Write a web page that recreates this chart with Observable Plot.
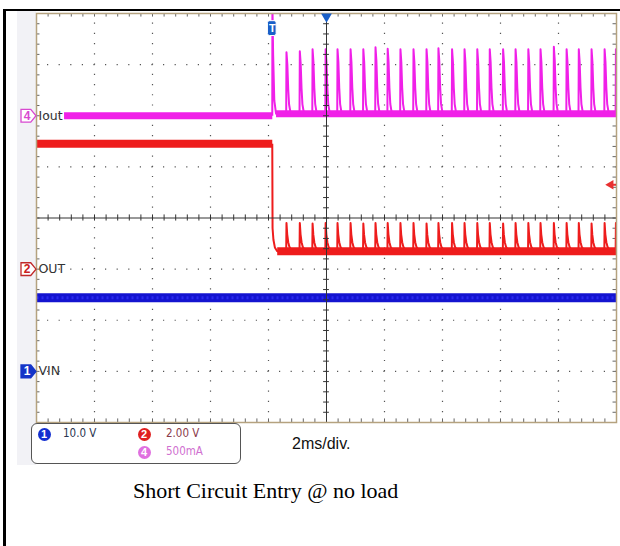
<!DOCTYPE html>
<html><head><meta charset="utf-8">
<script src="https://cdn.jsdelivr.net/npm/d3@7"></script>
<script src="https://cdn.jsdelivr.net/npm/@observablehq/plot@0.6"></script>
<style>
body{margin:0;background:#fff;}
#wrap{position:relative;width:620px;height:546px;overflow:hidden;background:#fff;}
#strip{position:absolute;left:17px;top:11px;width:19px;height:454px;background:#f2f2f6;}
#chart{position:absolute;left:0;top:0;}
.bl{position:absolute;background:#000;}
#legend{position:absolute;left:31px;top:423px;width:208px;height:39px;border:1px solid #555;border-radius:6px;background:#fff;font-family:"DejaVu Sans",sans-serif;font-stretch:condensed;font-size:11.5px;}
.ci{position:absolute;width:13px;height:13px;border-radius:50%;color:#fff;font-size:11px;font-weight:bold;text-align:center;line-height:13px;font-family:"Liberation Sans",sans-serif;font-stretch:normal;}
.lt{position:absolute;line-height:13px;}
#tdiv{position:absolute;left:292px;top:435px;font-family:"Liberation Sans",Arial,sans-serif;font-size:16px;color:#111;}
#caption{position:absolute;left:133px;top:480px;font-family:"Liberation Serif","Times New Roman",serif;font-size:22px;line-height:22px;color:#000;white-space:nowrap;}
#chart svg text.lbl{font-stretch:condensed;}
</style></head><body>
<div id="wrap">
  <div id="strip"></div>
  <div id="chart"></div>
  <div class="bl" style="left:3px;top:9px;width:3px;height:537px"></div>
  <div class="bl" style="left:3px;top:9px;width:617px;height:2px"></div>
  <div id="legend"></div>
  <div id="tdiv"></div>
  <div id="caption"></div>
</div>
<script>
// ---------------- data ----------------
const timeDomain = [0, 20];          // ms, 2 ms/div, 10 div
const divDomain = [-4, 4];           // vertical divisions
const timebaseLabel = "2ms/div.";
const captionText = "Short Circuit Entry @ no load";

// channel settings: scale per division, ground offset (div)
const chNames   = ["VIN", "OUT", "Iout"];
const chNumbers = ["1", "2", "4"];
const chScales  = [10, 2, 500];      // V/div, V/div, mA/div
const chOffsets = [-3, -1, 2];       // ground marker position (div)
const chScaleLabels = ["10.0 V", "2.00 V", "500mA"];

const triggerTime = 8.13;            // ms
const triggerLevel = 3.3;            // V on OUT

// spike (hiccup) times after short circuit, ms
const spikeTimes = [8.62, 9.08, 9.52, 9.97, 10.38, 10.83, 11.27, 11.69, 12.11, 12.55,
  13.00, 13.45, 13.86, 14.33, 14.76, 15.20, 15.63, 16.09, 16.52, 16.96,
  17.38, 17.84, 18.28, 18.70, 19.14, 19.59, 19.98];

// VIN
const vinTimes = [0, 20];
const vinValues = [14.4, 14.4];

// OUT
const outHighTimes = [0, 8.13];
const outHighValues = [4.9, 4.9];
const outDropTimes = [8.13, 8.14, 8.17, 8.22, 8.30];
const outDropValues = [4.9, 1.6, 1.15, 0.85, 0.7];
const outBase = 0.7;
const outPeaks = [1.8, 1.8, 1.78, 1.8, 1.8, 1.8, 1.78, 1.8, 1.8, 1.8,
  1.8, 1.78, 1.8, 1.8, 1.8, 1.8, 1.8, 1.78, 1.8, 1.8,
  1.8, 1.8, 1.8, 1.8, 1.78, 1.8, 1.8];
const outPulseDt = [-0.01, 0, 0.025, 0.06, 0.1, 0.16, 0.26];
const outPulseShape = [0, 1, 0.6, 0.32, 0.16, 0.05, 0];

// Iout (mA)
const ioutLowTimes = [0.95, 8.13];
const ioutLowValues = [0, 0];
const ioutTrigTimes = [8.13, 8.135, 8.16, 8.2, 8.26];
const ioutTrigValues = [0, 1100, 600, 150, 20];
const ioutBase = 20;
const ioutPeaks = [620, 630, 650, 650, 650, 650, 650, 670, 655, 650,
  650, 650, 660, 650, 650, 650, 650, 650, 650, 650,
  650, 675, 650, 650, 650, 650, 650];
const ioutPulseDt = [-0.01, 0, 0.03, 0.06, 0.09, 0.13, 0.18];
const ioutPulseShape = [0, 1, 0.8, 0.4, 0.15, 0.04, 0];

// ---------------- build ----------------
const toDiv = (v, i) => chOffsets[i] + v / chScales[i];
const pts = (ts, vs, i) => ts.map((t, k) => ({t, y: toDiv(vs[k], i)}));
function pulses(startT, startV, base, peaks, dts, shape, i, endT) {
  const out = pts(startT, startV, i);
  spikeTimes.forEach((st, k) => {
    dts.forEach((d, j) => out.push({t: st + d, y: toDiv(base + shape[j] * (peaks[k] - base), i)}));
  });
  out.push({t: endT, y: toDiv(base, i)});
  return out.filter(p => p.t <= endT);
}

const vin = pts(vinTimes, vinValues, 0);
const outHigh = pts(outHighTimes, outHighValues, 1);
const outPost = pulses(outDropTimes, outDropValues, outBase, outPeaks, outPulseDt, outPulseShape, 1, timeDomain[1]);
const outBand = [{t: outDropTimes[outDropTimes.length - 1], y: toDiv(outBase, 1)}, {t: timeDomain[1], y: toDiv(outBase, 1)}];
const ioutLow = pts(ioutLowTimes, ioutLowValues, 2);
const ioutPost = pulses(ioutTrigTimes, ioutTrigValues, ioutBase, ioutPeaks, ioutPulseDt, ioutPulseShape, 2, timeDomain[1]);
const ioutBand = [{t: ioutTrigTimes[ioutTrigTimes.length - 1], y: toDiv(ioutBase, 2)}, {t: timeDomain[1], y: toDiv(ioutBase, 2)}];

const majorX = d3.range(timeDomain[0], timeDomain[1] + 0.001, 2);
const minorX = d3.range(timeDomain[0], timeDomain[1] + 0.001, 0.4);
const majorY = d3.range(divDomain[0], divDomain[1] + 0.001, 1);
const minorY = d3.range(divDomain[0], divDomain[1] + 0.001, 0.2);

const colors = {VIN: "#1414d0", OUT: "#ee1c1c", Iout: "#f020e8"};
const markers = chNames.map((n, i) => ({name: n, num: chNumbers[i], y: chOffsets[i]}));
const markerFill = {VIN: "#1434c8", OUT: "#fff", Iout: "#fff"};
const markerStroke = {VIN: "#1434c8", OUT: "#c02828", Iout: "#d848d0"};
const markerText = {VIN: "#fff", OUT: "#c82020", Iout: "#d848d0"};

const groundSymbol = {
  draw(ctx, size) {
    const r = Math.sqrt(size / Math.PI);
    ctx.moveTo(-r, -0.85 * r);
    ctx.lineTo(0.3 * r, -0.85 * r);
    ctx.lineTo(r, 0);
    ctx.lineTo(0.3 * r, 0.85 * r);
    ctx.lineTo(-r, 0.85 * r);
    ctx.closePath();
  }
};

const mid = (timeDomain[0] + timeDomain[1]) / 2;
const band = {strokeLinecap: "butt", strokeLinejoin: "miter", clip: true};
const thin = {strokeWidth: 2, strokeLinecap: "butt", strokeLinejoin: "round", clip: true};

const chart = Plot.plot({
  width: 620, height: 470,
  marginLeft: 36, marginRight: 4, marginTop: 13, marginBottom: 48,
  x: {domain: timeDomain, axis: null},
  y: {domain: divDomain, axis: null},
  style: {background: "transparent", overflow: "visible"},
  marks: [
    Plot.frame({fill: "white", stroke: "none"}),
    // dotted graticule
    Plot.ruleX(majorX.filter(v => v > timeDomain[0] && v < timeDomain[1] && v !== mid),
      {stroke: "#555", strokeWidth: 1.2, strokeDasharray: "1.2,9.02", strokeDashoffset: 0.6}),
    Plot.ruleY(majorY.filter(v => v > divDomain[0] && v < divDomain[1] && v !== 0),
      {stroke: "#555", strokeWidth: 1.2, strokeDasharray: "1.2,10.4", strokeDashoffset: 0.6}),
    // edge ticks
    Plot.ruleY(minorY, {x1: 0, x2: 0.12, stroke: "#666"}),
    Plot.ruleY(minorY, {x1: 19.88, x2: 20, stroke: "#666"}),
    Plot.ruleX(minorX, {y1: 3.93, y2: 4, stroke: "#666"}),
    Plot.ruleX(minorX, {y1: -4, y2: -3.93, stroke: "#666"}),
    // traces
    Plot.line(vin, {x: "t", y: "y", stroke: colors.VIN, strokeWidth: 9, ...band}),
    Plot.line(vin, {x: "t", y: "y", stroke: "#2a2af0", strokeWidth: 3, strokeDasharray: "2,3", ...band}),
    Plot.line(outHigh, {x: "t", y: "y", stroke: colors.OUT, strokeWidth: 8, ...band}),
    Plot.line(outBand, {x: "t", y: "y", stroke: colors.OUT, strokeWidth: 8, ...band}),
    Plot.line(outPost, {x: "t", y: "y", stroke: colors.OUT, ...thin}),
    Plot.line(ioutLow, {x: "t", y: "y", stroke: colors.Iout, strokeWidth: 7, ...band}),
    Plot.line(ioutBand, {x: "t", y: "y", stroke: colors.Iout, strokeWidth: 7, ...band}),
    Plot.line(ioutPost, {x: "t", y: "y", stroke: colors.Iout, ...thin}),
    // center cross with ticks
    Plot.ruleX([mid], {stroke: "#333"}),
    Plot.ruleY([0], {stroke: "#333"}),
    Plot.ruleY(minorY, {x1: mid - 0.1, x2: mid + 0.1, stroke: "#333"}),
    Plot.ruleX(minorX, {y1: -0.06, y2: 0.06, stroke: "#333"}),
    Plot.frame({stroke: "#b5a27f", strokeWidth: 1.5}),
    // ground markers and channel labels
    Plot.dot(markers, {x: timeDomain[0], y: "y", dx: -8, symbol: groundSymbol, r: 7.5,
      fill: d => markerFill[d.name], stroke: d => markerStroke[d.name], strokeWidth: 1.3}),
    Plot.text(markers, {x: timeDomain[0], y: "y", dx: -9.5, text: "num", fill: d => markerText[d.name],
      fontSize: 12, fontWeight: "bold", fontFamily: "Liberation Sans, sans-serif"}),
    Plot.text(markers, {x: timeDomain[0], y: "y", dx: 2, text: "name", textAnchor: "start",
      fill: "#333", fontSize: 12.5, fontFamily: "DejaVu Sans, sans-serif", className: "lbl"}),
    // trigger position marker
    Plot.rect([triggerTime], {x1: d => d - 0.15, x2: d => d + 0.15, y1: 3.56, y2: 3.85, fill: "#1a5fc8", stroke: "#fff", rx: 2}),
    Plot.text([triggerTime], {x: d => d, y: 3.705, text: () => "T", fill: "#fff", fontWeight: "bold", fontSize: 11, fontFamily: "Liberation Sans, sans-serif"}),
    // horizontal reference marker
    Plot.dot([mid], {x: d => d, y: divDomain[1], dy: 3, symbol: "triangle", rotate: 180, r: 4, fill: "#1a5fc8"}),
    // trigger level marker
    Plot.ruleY([toDiv(triggerLevel, 1)], {x1: 19.75, x2: 20, stroke: "#e83030", strokeWidth: 2}),
    Plot.dot([toDiv(triggerLevel, 1)], {x: 19.8, y: d => d, symbol: "triangle", rotate: -90, r: 3.5, fill: "#e83030"})
  ]
});
document.getElementById("chart").appendChild(chart);

// legend (scope readout)
const legendPos = [[12, 10, 31], [112, 10, 134], [112, 28, 134]];
const legendBg = ["#1430d0", "#e02020", "#e070e0"];
const legendTextColor = ["#2a3550", "#8b3a4a", "#d070d0"];
const legend = document.getElementById("legend");
chNumbers.forEach((n, i) => {
  const [cx, cy, tx] = legendPos[i];
  const c = document.createElement("div");
  c.className = "ci";
  c.style.left = (cx - 6.5) + "px"; c.style.top = (cy - 6.5) + "px";
  c.style.background = legendBg[i];
  c.textContent = n;
  legend.appendChild(c);
  const t = document.createElement("div");
  t.className = "lt";
  t.style.left = tx + "px"; t.style.top = (cy - 7) + "px";
  t.style.color = legendTextColor[i];
  t.textContent = chScaleLabels[i];
  legend.appendChild(t);
});
document.getElementById("tdiv").textContent = timebaseLabel;
document.getElementById("caption").textContent = captionText;
</script>
</body></html>
